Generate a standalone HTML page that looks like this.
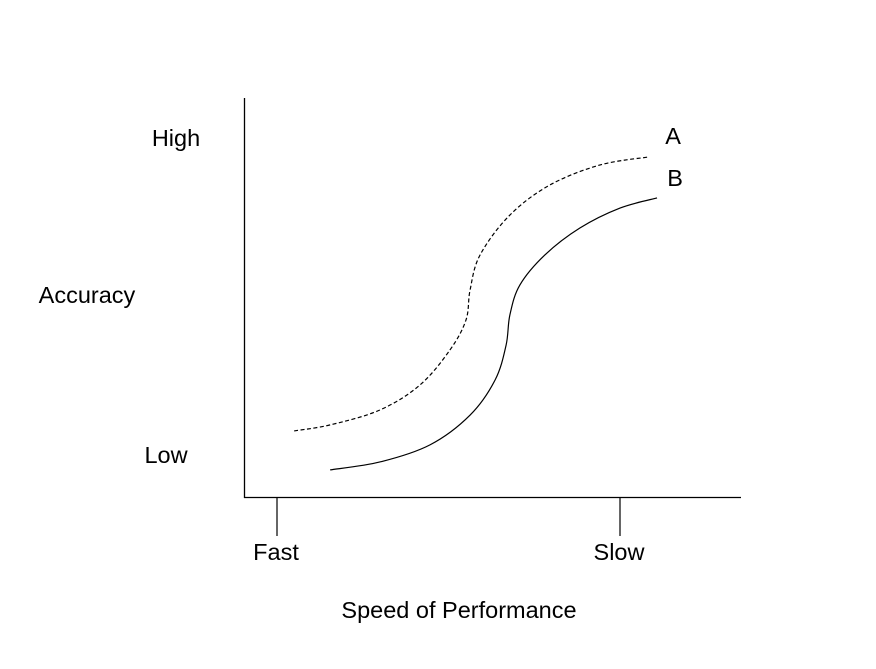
<!DOCTYPE html>
<html><head><meta charset="utf-8">
<style>
html,body{margin:0;padding:0;background:#fff;}
svg{display:block;}
text{font-family:"Liberation Sans",sans-serif;font-size:23.5px;fill:#000;}
</style></head>
<body>
<svg id="chart" width="876" height="669" viewBox="0 0 876 669">
  <line x1="244.5" y1="98" x2="244.5" y2="498" stroke="#000" stroke-width="1.3"/>
  <line x1="244" y1="497.5" x2="741" y2="497.5" stroke="#000" stroke-width="1.3"/>
  <g id="xticks"></g>
  <g id="yticks"></g>
  <text x="87" y="303" text-anchor="middle">Accuracy</text>
  <text x="459" y="618" text-anchor="middle">Speed of Performance</text>
  <g id="curves"></g>
</svg>
<script>
const xTickLabels = ["Fast", "Slow"];
const xTickValues = [0, 1];
const yTickLabels = ["Low", "High"];
const yTickValues = [0, 1];
const seriesNames = ["A", "B"];
const seriesAX = [0.050,0.155,0.300,0.417,0.504,0.551,0.563,0.592,0.679,0.796,0.942,1.082];
const seriesAY = [0.076,0.095,0.142,0.221,0.331,0.426,0.521,0.631,0.757,0.852,0.915,0.940];
const seriesBX = [0.155,0.300,0.446,0.563,0.636,0.668,0.679,0.708,0.781,0.883,1.000,1.108];
const seriesBY = [-0.047,-0.022,0.032,0.126,0.237,0.347,0.442,0.536,0.631,0.716,0.779,0.811];

const NS = "http://www.w3.org/2000/svg";
function sx(v){ return 277 + v * 343; }
function sy(v){ return 455 - v * 317; }

const xt = document.getElementById('xticks');
xTickValues.forEach((v,i)=>{
  const l = document.createElementNS(NS,'line');
  l.setAttribute('x1', sx(v)); l.setAttribute('x2', sx(v));
  l.setAttribute('y1', 498); l.setAttribute('y2', 536);
  l.setAttribute('stroke','#000'); l.setAttribute('stroke-width','1.2');
  
  
  xt.appendChild(l);
  const t = document.createElementNS(NS,'text');
  t.setAttribute('x', sx(v)-1); t.setAttribute('y', 560);
  t.setAttribute('text-anchor','middle');
  t.textContent = xTickLabels[i];
  
  
  xt.appendChild(t);
});
const yt = document.getElementById('yticks');
yTickValues.forEach((v,i)=>{
  const t = document.createElementNS(NS,'text');
  t.setAttribute('x', i===0 ? 166 : 176); t.setAttribute('y', sy(v)+8);
  t.setAttribute('text-anchor','middle');
  t.textContent = yTickLabels[i];
  
  
  yt.appendChild(t);
});

function smoothPath(xs, ys){
  const p = xs.map((x,i)=>[sx(x), sy(ys[i])]);
  let d = `M${p[0][0]},${p[0][1]}`;
  for(let i=0;i<p.length-1;i++){
    const p0=p[Math.max(0,i-1)], p1=p[i], p2=p[i+1], p3=p[Math.min(p.length-1,i+2)];
    const c1=[p1[0]+(p2[0]-p0[0])/6, p1[1]+(p2[1]-p0[1])/6];
    const c2=[p2[0]-(p3[0]-p1[0])/6, p2[1]-(p3[1]-p1[1])/6];
    d += ` C${c1[0]},${c1[1]} ${c2[0]},${c2[1]} ${p2[0]},${p2[1]}`;
  }
  return d;
}
const cg = document.getElementById('curves');
[[seriesAX,seriesAY,true],[seriesBX,seriesBY,false]].forEach((s,i)=>{
  const path = document.createElementNS(NS,'path');
  path.setAttribute('d', smoothPath(s[0], s[1]));
  path.setAttribute('fill','none'); path.setAttribute('stroke','#000');
  path.setAttribute('stroke-width','1.2');
  if(s[2]) path.setAttribute('stroke-dasharray','4,2.5');
  
  
  cg.appendChild(path);
  const lx = s[0][s[0].length-1], ly = s[1][s[1].length-1];
  const t = document.createElementNS(NS,'text');
  t.setAttribute('x', sx(lx) + (i===0?25:18)); t.setAttribute('y', sy(ly) - (i===0?13:12));
  t.setAttribute('text-anchor','middle');
  t.textContent = seriesNames[i];
  
  
  cg.appendChild(t);
});
</script>
</body></html>
